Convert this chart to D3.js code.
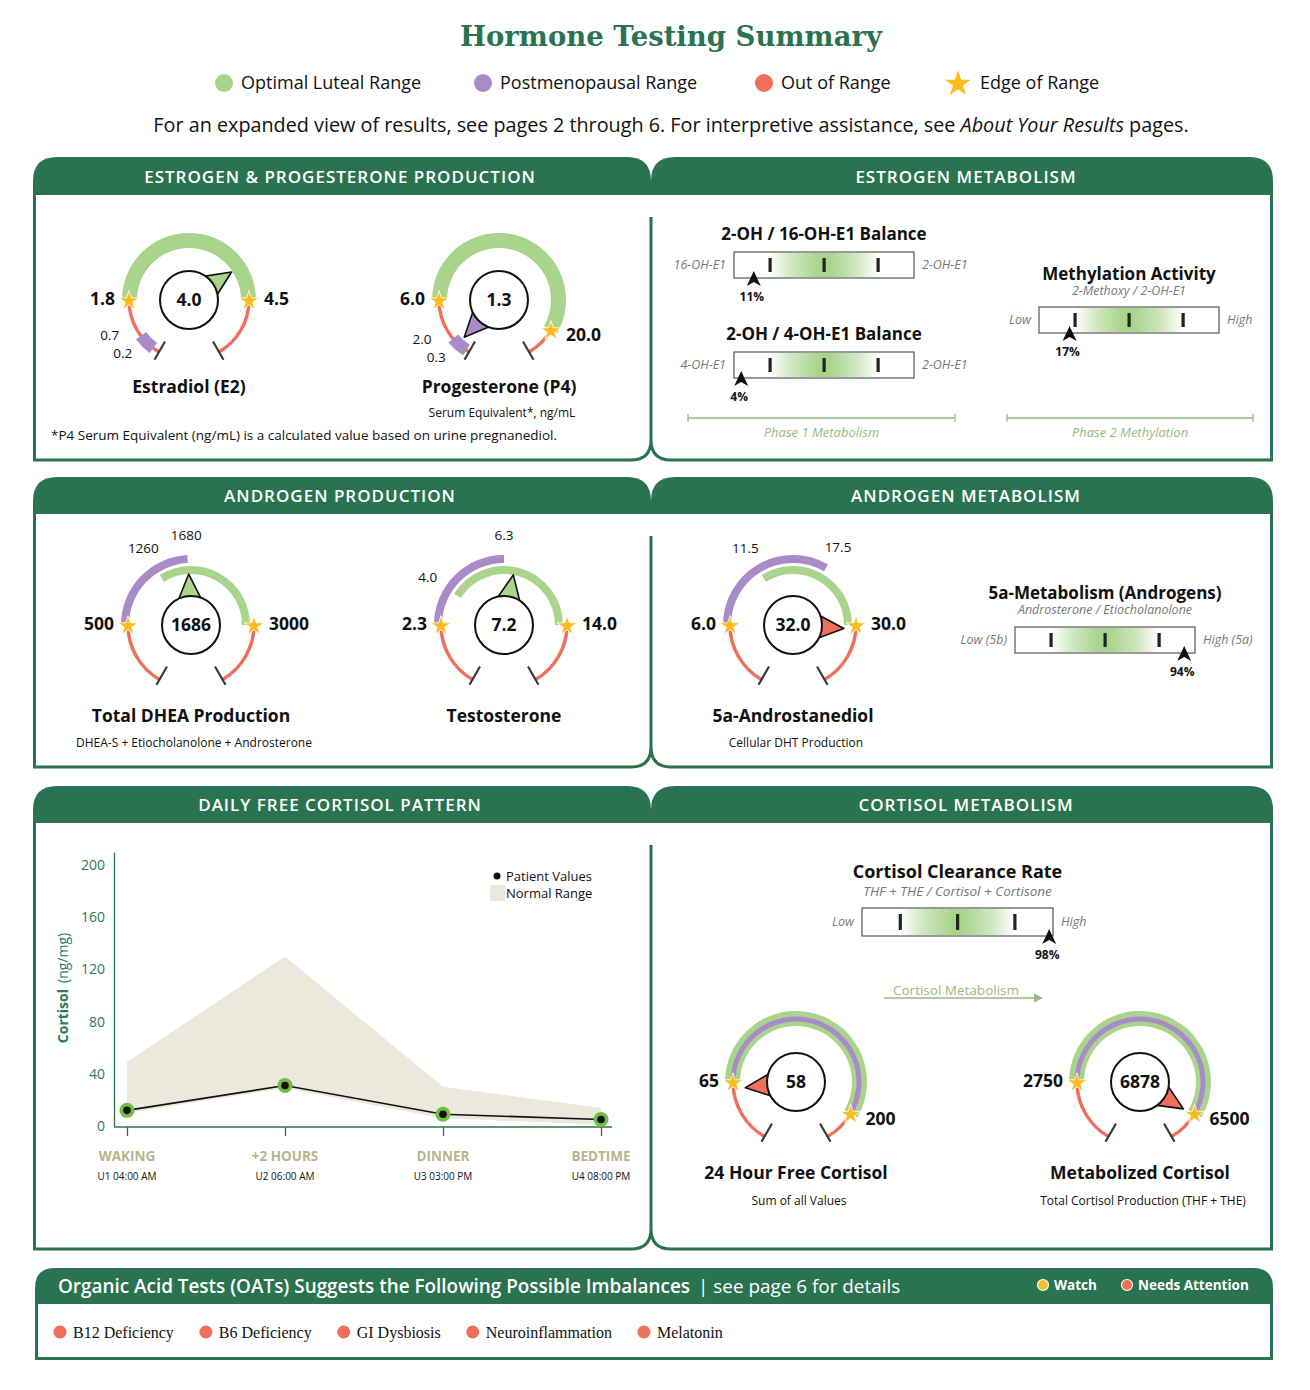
<!DOCTYPE html>
<html>
<head>
<meta charset="utf-8">
<script src="https://cdn.jsdelivr.net/npm/d3@7"></script>
<style>
  body { margin: 0; background: #fff; }
  svg { display: block; font-family: "Open Sans", sans-serif; }
</style>
</head>
<body>
<svg id="chart" width="1310" height="1390"></svg>
<script>
// ---- data ----
const legendLabels = ["Optimal Luteal Range", "Postmenopausal Range", "Out of Range", "Edge of Range"];

const gaugeNames = ["Estradiol (E2)", "Progesterone (P4)", "Total DHEA Production", "Testosterone",
                    "5a-Androstanediol", "24 Hour Free Cortisol", "Metabolized Cortisol"];
const gaugeNotes = ["", "Serum Equivalent*, ng/mL", "DHEA-S + Etiocholanolone + Androsterone", "",
                    "Cellular DHT Production", "Sum of all Values", "Total Cortisol Production (THF + THE)"];
const gaugeValues = [4.0, 1.3, 1686, 7.2, 32.0, 58, 6878];
const gaugeDigits = [1, 1, 0, 1, 1, 0, 0];
const optimalLow  = [1.8, 6.0, 1260, 4.0, 11.5, 65, 2750];
const optimalHigh = [4.5, 20.0, 3000, 14.0, 30.0, 200, 6500];
const postLow     = [0.2, 0.3, 500, 2.3, 6.0, 65, 2750];
const postHigh    = [0.7, 2.0, 1680, 6.3, 17.5, 200, 6500];
const edgeLow     = [1.8, 6.0, 500, 2.3, 6.0, 65, 2750];
const edgeHigh    = [4.5, 20.0, 3000, 14.0, 30.0, 200, 6500];
const minorLabels = [[0.2, 0.7], [0.3, 2.0], [1260, 1680], [4.0, 6.3], [11.5, 17.5], [], []];

const barTitles     = ["2-OH / 16-OH-E1 Balance", "2-OH / 4-OH-E1 Balance", "Methylation Activity",
                       "5a-Metabolism (Androgens)", "Cortisol Clearance Rate"];
const barSubtitles  = ["", "", "2-Methoxy / 2-OH-E1", "Androsterone / Etiocholanolone", "THF + THE / Cortisol + Cortisone"];
const barLowLabels  = ["16-OH-E1", "4-OH-E1", "Low", "Low (5b)", "Low"];
const barHighLabels = ["2-OH-E1", "2-OH-E1", "High", "High (5a)", "High"];
const barPercents   = [11, 4, 17, 94, 98];
const barTickPcts   = [20, 50, 80];

const cortisolTimes   = ["WAKING", "+2 HOURS", "DINNER", "BEDTIME"];
const cortisolSamples = ["U1 04:00 AM", "U2 06:00 AM", "U3 03:00 PM", "U4 08:00 PM"];
const cortisolPatient = [12, 31, 9, 5];
const cortisolLow     = [10, 29, 6, 1];
const cortisolHigh    = [49, 130, 30, 14];
const cortisolTicks   = [0, 40, 80, 120, 160, 200];

const oatItems = ["B12 Deficiency", "B6 Deficiency", "GI Dysbiosis", "Neuroinflammation", "Melatonin"];

// ---- styles ----
const GREEN = "#2a7350", OPT = "#a9d48c", POST = "#a98bc9", OUT = "#ef6e5c", STAR = "#fbbd1e";
const SOFT = "#97b883";

const svg = d3.select("#chart");

// title + legend
svg.append("text").attr("x", 671).attr("y", 36).attr("dy", "0.35em").attr("text-anchor", "middle")
  .style("font-family", "'DejaVu Serif', serif").style("font-weight", "bold").style("font-size", "27.5px")
  .attr("fill", GREEN).text("Hormone Testing Summary");

const legendX = [224, 483, 764, 958];
const legendColors = [OPT, POST, OUT, STAR];
legendLabels.forEach((t, i) => {
  if (i < 3) {
    svg.append("circle").attr("cx", legendX[i]).attr("cy", 83).attr("r", 9).attr("fill", legendColors[i]);
  } else {
    svg.append("path").attr("d", d3.symbol(d3.symbolStar, 210)())
      .attr("transform", `translate(${legendX[i]},84)`).attr("fill", STAR);
  }
  svg.append("text").attr("x", legendX[i] + (i < 3 ? 17 : 22)).attr("y", 83).attr("dy", "0.35em")
    .style("font-size", "18px").attr("fill", "#111").text(t);
});

const sub = svg.append("text").attr("x", 671).attr("y", 125).attr("dy", "0.35em").attr("text-anchor", "middle")
  .style("font-size", "19.8px").attr("fill", "#111");
sub.append("tspan").text("For an expanded view of results, see pages 2 through 6. For interpretive assistance, see ");
sub.append("tspan").style("font-style", "italic").text("About Your Results");
sub.append("tspan").text(" pages.");

// ---- panels ----
const rows = [
  {top: 157, hb: 195, bottom: 460, left: "ESTROGEN & PROGESTERONE PRODUCTION", right: "ESTROGEN METABOLISM"},
  {top: 477, hb: 514, bottom: 767, left: "ANDROGEN PRODUCTION", right: "ANDROGEN METABOLISM"},
  {top: 786, hb: 823, bottom: 1249, left: "DAILY FREE CORTISOL PATTERN", right: "CORTISOL METABOLISM"}
];
const X0 = 33, XM = 651, X1 = 1273;

function tab(x0, x1, y0, y1, r) {
  return `M${x0},${y1} L${x0},${y0 + r} Q${x0},${y0} ${x0 + r},${y0} L${x1 - r},${y0} Q${x1},${y0} ${x1},${y0 + r} L${x1},${y1} Z`;
}

rows.forEach(r => {
  svg.append("path").attr("d", tab(X0, XM, r.top, r.hb, 24)).attr("fill", GREEN);
  svg.append("path").attr("d", tab(XM, X1, r.top, r.hb, 24)).attr("fill", GREEN);
  svg.append("path")
    .attr("d", `M${X0 + 1.5},${r.hb} L${X0 + 1.5},${r.bottom} L${XM - 20},${r.bottom} Q${XM},${r.bottom} ${XM},${r.bottom - 20}
                Q${XM},${r.bottom} ${XM + 20},${r.bottom} L${X1 - 1.5},${r.bottom} L${X1 - 1.5},${r.hb}`)
    .attr("fill", "none").attr("stroke", GREEN).attr("stroke-width", 3);
  svg.append("line").attr("x1", XM).attr("x2", XM).attr("y1", r.hb + 22).attr("y2", r.bottom - 20)
    .attr("stroke", GREEN).attr("stroke-width", 3);
  [[r.left, 340], [r.right, 966]].forEach(([t, x]) => {
    svg.append("text").attr("x", x).attr("y", (r.top + r.hb) / 2 + 1).attr("dy", "0.35em").attr("text-anchor", "middle")
      .style("font-size", "17px").style("font-weight", 600).style("letter-spacing", "1px")
      .attr("fill", "#fff").text(t);
  });
});

svg.append("text").attr("x", 51).attr("y", 435).attr("dy", "0.35em").style("font-size", "13.5px")
  .attr("fill", "#111").text("*P4 Serum Equivalent (ng/mL) is a calculated value based on urine pregnanediol.");

// ---- gauges ----
// angle stops (degrees from 12 o'clock) for the gauge scale; split gauges add stops for the
// optimal-low and postmenopausal-high reference values
const gaugeLayout = [
  {cx: 189, cy: 300, style: "single", stops: [-150, -90, 90, 150], titleY: 387, noteY: 413},
  {cx: 499, cy: 300, style: "single", stops: [-150, -90, 120, 150], titleY: 387, noteY: 413},
  {cx: 191, cy: 625, style: "split", stops: [-150, -90, -32, -3, 90, 150], titleY: 716, noteY: 743},
  {cx: 504, cy: 625, style: "split", stops: [-150, -90, -58, 0, 90, 150], titleY: 716, noteY: 743},
  {cx: 793, cy: 625, style: "split", stops: [-150, -90, -32, 30, 90, 150], titleY: 716, noteY: 743},
  {cx: 796, cy: 1082, style: "nested", stops: [-150, -90, 120, 150], titleY: 1173, noteY: 1201},
  {cx: 1140, cy: 1082, style: "nested", stops: [-150, -90, 120, 150], titleY: 1173, noteY: 1201}
];
const radii = {
  single: {red: 60, opt: [52, 67], post: [53.5, 66], star: 60},
  split:  {red: 63, opt: [51, 59], post: [62, 70], star: 63},
  nested: {red: 63, opt: [56, 71], post: [60.5, 65.5], star: 63}
};
const rad = a => a * Math.PI / 180;
const pt = (r, a) => [r * Math.sin(rad(a)), -r * Math.cos(rad(a))];
const arc = d3.arc();

gaugeNames.forEach((name, i) => {
  const L = gaugeLayout[i], R = radii[L.style];
  const domain = L.style === "split"
    ? [0, edgeLow[i], optimalLow[i], postHigh[i], edgeHigh[i], edgeHigh[i] * 2]
    : [0, edgeLow[i], edgeHigh[i], edgeHigh[i] * 2];
  const ang = d3.scaleLinear().domain(domain).range(L.stops).clamp(true);
  const g = svg.append("g").attr("transform", `translate(${L.cx},${L.cy})`);
  const band = (r0, r1, v0, v1, fill) => g.append("path")
    .attr("d", arc({innerRadius: r0, outerRadius: r1, startAngle: rad(ang(v0)), endAngle: rad(ang(v1))}))
    .attr("fill", fill);

  // out-of-range arcs
  band(R.red - 1.7, R.red + 1.7, 0, edgeLow[i], OUT);
  band(R.red - 1.7, R.red + 1.7, edgeHigh[i], edgeHigh[i] * 2, OUT);
  if (L.style === "split") {
    band(R.post[0], R.post[1], postLow[i], postHigh[i], POST);
    band(R.opt[0], R.opt[1], optimalLow[i], optimalHigh[i], OPT);
  } else {
    band(R.opt[0], R.opt[1], optimalLow[i], optimalHigh[i], OPT);
    band(R.post[0], R.post[1], postLow[i], postHigh[i], POST);
  }
  // end ticks
  [-150, 150].forEach(a => {
    const p0 = pt(48, a), p1 = pt(69, a);
    g.append("line").attr("x1", p0[0]).attr("y1", p0[1]).attr("x2", p1[0]).attr("y2", p1[1])
      .attr("stroke", "#3a3a3a").attr("stroke-width", 2.2);
  });
  // edge stars and bold labels
  [edgeLow[i], edgeHigh[i]].forEach((v, k) => {
    const a = ang(v), p = pt(R.star, a);
    g.append("path").attr("d", d3.symbol(d3.symbolStar, 120)())
      .attr("transform", `translate(${p[0]},${p[1] + 1})`).attr("fill", STAR)
      .attr("stroke", "#fff").attr("stroke-width", 0.8);
    g.append("text").attr("x", p[0] + (k ? 15 : -14)).attr("y", p[1] + (a > 100 ? 5 : -1)).attr("dy", "0.35em")
      .attr("text-anchor", k ? "start" : "end")
      .style("font-size", "17.5px").style("font-weight", 700).attr("fill", "#111")
      .text(d3.format(`.${gaugeDigits[i]}f`)(v));
  });
  // minor range labels
  minorLabels[i].forEach(v => {
    const single = L.style === "single";
    const p = single ? pt(78, ang(v) + 10) : pt(90, ang(v));
    g.append("text").attr("x", p[0]).attr("y", p[1]).attr("dy", "0.35em")
      .attr("text-anchor", single ? "end" : "middle")
      .style("font-size", "13.5px").attr("fill", "#111")
      .text(d3.format(`.${v >= 100 ? 0 : 1}f`)(v));
  });
  // pointer
  const v = gaugeValues[i], a = ang(v);
  const fill = (v >= optimalLow[i] && v <= optimalHigh[i]) ? OPT
             : (v >= postLow[i] && v <= postHigh[i]) ? POST : OUT;
  const tri = [pt(51, a), pt(29, a - 22), pt(29, a + 22)];
  g.append("path").attr("d", "M" + tri.map(p => p.join(",")).join("L") + "Z")
    .attr("fill", fill).attr("stroke", "#111").attr("stroke-width", 1.6).attr("stroke-linejoin", "round");
  g.append("circle").attr("r", 29).attr("fill", "#fff").attr("stroke", "#111").attr("stroke-width", 2);
  g.append("text").attr("dy", "0.35em").attr("text-anchor", "middle")
    .style("font-size", "17.5px").style("font-weight", 700).attr("fill", "#111")
    .text(d3.format(`.${gaugeDigits[i]}f`)(v));
  // titles
  svg.append("text").attr("x", L.cx).attr("y", L.titleY).attr("dy", "0.35em").attr("text-anchor", "middle")
    .style("font-size", "17.5px").style("font-weight", 700).attr("fill", "#111").text(name);
  if (gaugeNotes[i]) {
    svg.append("text").attr("x", L.cx + 3).attr("y", L.noteY).attr("dy", "0.35em").attr("text-anchor", "middle")
      .style("font-size", "12px").attr("fill", "#111").text(gaugeNotes[i]);
  }
});

// ---- balance bars ----
const defs = svg.append("defs");
const grad = defs.append("linearGradient").attr("id", "optGrad");
[[0, 0], [0.2, 0.55], [0.45, 1], [0.55, 1], [0.8, 0.55], [1, 0]].forEach(([o, op]) =>
  grad.append("stop").attr("offset", o).attr("stop-color", OPT).attr("stop-opacity", op));

const barLayout = [
  {x: 734, y: 252, w: 180, h: 26, titleY: 234, titleSize: 17, subGap: 17},
  {x: 734, y: 352, w: 180, h: 26, titleY: 334, titleSize: 17, subGap: 17},
  {x: 1039, y: 307, w: 180, h: 26, titleY: 274, titleSize: 17, subGap: 17},
  {x: 1015, y: 627, w: 180, h: 26, titleY: 593, titleSize: 17, subGap: 17},
  {x: 862, y: 908, w: 191, h: 28, titleY: 872, titleSize: 18, subGap: 19}
];
barTitles.forEach((t, i) => {
  const B = barLayout[i];
  const x = d3.scaleLinear().domain([0, 100]).range([B.x, B.x + B.w]);
  const cx = B.x + B.w / 2;
  svg.append("text").attr("x", cx).attr("y", B.titleY).attr("dy", "0.35em").attr("text-anchor", "middle")
    .style("font-size", B.titleSize + "px").style("font-weight", 700).attr("fill", "#111").text(t);
  if (barSubtitles[i]) {
    svg.append("text").attr("x", cx).attr("y", B.titleY + B.subGap).attr("dy", "0.35em").attr("text-anchor", "middle")
      .style("font-size", i === 4 ? "13.5px" : "12.5px").style("font-style", "italic").attr("fill", "#777")
      .text(barSubtitles[i]);
  }
  svg.append("rect").attr("x", B.x).attr("y", B.y).attr("width", B.w).attr("height", B.h)
    .attr("fill", "#fff").attr("stroke", "#555").attr("stroke-width", 1.2);
  svg.append("rect").attr("x", x(barTickPcts[0])).attr("y", B.y + 1).attr("width", x(barTickPcts[2]) - x(barTickPcts[0]))
    .attr("height", B.h - 2).attr("fill", "url(#optGrad)");
  barTickPcts.forEach(p => svg.append("rect").attr("x", x(p) - 1.5).attr("y", B.y + 6)
    .attr("width", 3.2).attr("height", B.h - 12).attr("fill", "#222"));
  svg.append("text").attr("x", B.x - 8).attr("y", B.y + B.h / 2).attr("dy", "0.35em").attr("text-anchor", "end")
    .style("font-size", "12.5px").style("font-style", "italic").attr("fill", "#777").text(barLowLabels[i]);
  svg.append("text").attr("x", B.x + B.w + 8).attr("y", B.y + B.h / 2).attr("dy", "0.35em")
    .style("font-size", "12.5px").style("font-style", "italic").attr("fill", "#777").text(barHighLabels[i]);
  const mx = x(barPercents[i]), ty = B.y + B.h - 7;
  svg.append("path").attr("d", `M${mx},${ty} L${mx + 7},${ty + 15} L${mx},${ty + 11} L${mx - 7},${ty + 15} Z`)
    .attr("fill", "#111");
  svg.append("text").attr("x", mx - 2).attr("y", ty + 26).attr("dy", "0.35em").attr("text-anchor", "middle")
    .style("font-size", "12px").style("font-weight", 700).attr("fill", "#111").text(barPercents[i] + "%");
});

// phase rulers
[[688, 955, "Phase 1 Metabolism"], [1007, 1253, "Phase 2 Methylation"]].forEach(([a, b, t]) => {
  svg.append("line").attr("x1", a).attr("x2", b).attr("y1", 418).attr("y2", 418).attr("stroke", SOFT).attr("stroke-width", 1.3);
  [a, b].forEach(x => svg.append("line").attr("x1", x).attr("x2", x).attr("y1", 414).attr("y2", 422)
    .attr("stroke", SOFT).attr("stroke-width", 1.3));
  svg.append("text").attr("x", (a + b) / 2).attr("y", 432).attr("dy", "0.35em").attr("text-anchor", "middle")
    .style("font-size", "13px").style("font-style", "italic").attr("fill", SOFT).text(t);
});

// cortisol metabolism arrow
svg.append("line").attr("x1", 884).attr("x2", 1036).attr("y1", 998).attr("y2", 998).attr("stroke", SOFT).attr("stroke-width", 1.4);
svg.append("path").attr("d", "M1043,998 L1034,993.5 L1034,1002.5 Z").attr("fill", SOFT);
svg.append("text").attr("x", 956).attr("y", 990).attr("dy", "0.35em").attr("text-anchor", "middle")
  .style("font-size", "13.5px").attr("fill", SOFT).text("Cortisol Metabolism");

// ---- daily free cortisol chart ----
const xC = d3.scalePoint().domain(cortisolTimes).range([127, 601]);
const yC = d3.scaleLinear().domain([0, 210]).range([1126, 852]);
const AX = "#2e7a58";

svg.append("path").datum(cortisolTimes)
  .attr("d", d3.area().x(d => xC(d)).y0((d, k) => yC(cortisolLow[k])).y1((d, k) => yC(cortisolHigh[k])))
  .attr("fill", "#ebe8dc");

const yAxis = svg.append("g").attr("transform", "translate(114,0)")
  .call(d3.axisLeft(yC).tickValues(cortisolTicks).tickSize(0).tickSizeOuter(0).tickPadding(9));
yAxis.select(".domain").attr("stroke", GREEN).attr("stroke-width", 1.3);
yAxis.selectAll("text").style("font-size", "14px").style("font-family", "'Open Sans', sans-serif").attr("fill", AX);

svg.append("line").attr("x1", 114).attr("x2", 612).attr("y1", 1127).attr("y2", 1127).attr("stroke", GREEN).attr("stroke-width", 1.3);
const xAxis = svg.append("g").attr("transform", "translate(0,1127)")
  .call(d3.axisBottom(xC).tickSize(9).tickSizeOuter(0).tickFormat(""));
xAxis.select(".domain").remove();
xAxis.selectAll("line").attr("stroke", GREEN).attr("stroke-width", 1.3);

cortisolTimes.forEach((t, k) => {
  svg.append("text").attr("x", xC(t)).attr("y", 1156).attr("dy", "0.35em").attr("text-anchor", "middle")
    .style("font-size", "13.5px").style("font-weight", 700).attr("fill", "#b7b48e").text(t);
  svg.append("text").attr("x", xC(t)).attr("y", 1176).attr("dy", "0.35em").attr("text-anchor", "middle")
    .style("font-size", "10px").attr("fill", "#111").text(cortisolSamples[k]);
});

svg.append("path").datum(cortisolPatient)
  .attr("d", d3.line().x((d, k) => xC(cortisolTimes[k])).y(d => yC(d)))
  .attr("fill", "none").attr("stroke", "#111").attr("stroke-width", 1.6);
cortisolPatient.forEach((d, k) => {
  svg.append("circle").attr("cx", xC(cortisolTimes[k])).attr("cy", yC(d)).attr("r", 7.5).attr("fill", "#6fbf45");
  svg.append("circle").attr("cx", xC(cortisolTimes[k])).attr("cy", yC(d)).attr("r", 3.8).attr("fill", "#111");
});

const yl = svg.append("text").attr("transform", "translate(63,988) rotate(-90)").attr("dy", "0.35em")
  .attr("text-anchor", "middle").style("font-size", "14px").attr("fill", AX);
yl.append("tspan").style("font-weight", 700).text("Cortisol");
yl.append("tspan").attr("dx", 6).text("(ng/mg)");

svg.append("circle").attr("cx", 497).attr("cy", 876).attr("r", 3.5).attr("fill", "#111");
svg.append("text").attr("x", 506).attr("y", 876).attr("dy", "0.35em").style("font-size", "13px").attr("fill", "#111").text("Patient Values");
svg.append("rect").attr("x", 490).attr("y", 885).attr("width", 15).attr("height", 16).attr("fill", "#ebe8dc");
svg.append("text").attr("x", 506).attr("y", 893).attr("dy", "0.35em").style("font-size", "13px").attr("fill", "#111").text("Normal Range");

// ---- OATs footer ----
svg.append("path").attr("d", tab(35, 1273, 1268, 1304, 20)).attr("fill", GREEN);
svg.append("path").attr("d", `M36.5,1304 L36.5,1358.5 L1271.5,1358.5 L1271.5,1304`)
  .attr("fill", "none").attr("stroke", GREEN).attr("stroke-width", 3);
const oh = svg.append("text").attr("x", 58).attr("y", 1286).attr("dy", "0.35em")
  .style("font-size", "18.9px").attr("fill", "#fff");
oh.append("tspan").style("font-weight", 600).text("Organic Acid Tests (OATs) Suggests the Following Possible Imbalances");
oh.append("tspan").attr("dx", 8).text("|  see page 6 for details");

[[1043, "#f2c230", "Watch"], [1127, OUT, "Needs Attention"]].forEach(([x, c, t]) => {
  svg.append("circle").attr("cx", x).attr("cy", 1285).attr("r", 5.5).attr("fill", c).attr("stroke", "#fff").attr("stroke-width", 1.2);
  svg.append("text").attr("x", x + 11).attr("y", 1285).attr("dy", "0.35em").style("font-size", "13.5px")
    .style("font-weight", 700).attr("fill", "#fff").text(t);
});

let ox = 60;
oatItems.forEach(t => {
  svg.append("circle").attr("cx", ox).attr("cy", 1332).attr("r", 6.5).attr("fill", OUT);
  const tx = svg.append("text").attr("x", ox + 13).attr("y", 1332).attr("dy", "0.35em")
    .style("font-family", "'Liberation Serif', serif").style("font-size", "16px").attr("fill", "#111").text(t);
  ox += 13 + tx.node().getComputedTextLength() + 32;
});
</script>
</body>
</html>
